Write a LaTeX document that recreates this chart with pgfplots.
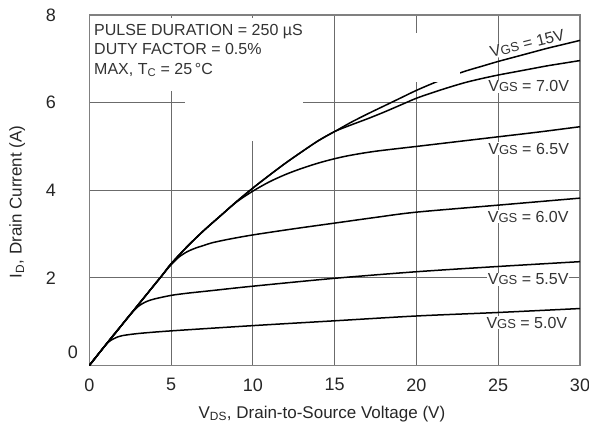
\documentclass[border=0pt]{standalone}
\usepackage{fontspec}
\setmainfont{Liberation Sans}
\usepackage{pgfplots}
\pgfplotsset{compat=1.18}
\newcommand{\vgs}[1]{V{\fontsize{13}{14}\selectfont GS} = #1}
\begin{document}
\begin{tikzpicture}
\begin{axis}[
    scale only axis, width=490.7pt, height=350.5pt,
    xmin=0, xmax=30, ymin=0, ymax=8,
    xtick={0,5,10,15,20,25,30}, ytick={0,2,4,6,8},
    yticklabels={,2,4,6,8},
    grid=major,
    major grid style={draw=black!58, line width=0.9pt},
    axis line style={draw=black!50, line width=1.1pt},
    major tick length=0pt,
    /pgf/number format/assume math mode=true,
    tick label style={font=\fontsize{18}{20}\selectfont, text=black!85},
    xticklabel style={yshift=-9.5pt},
    yticklabel style={xshift=-30pt},
    xlabel={V\textsubscript{DS}, Drain-to-Source Voltage (V)},
    ylabel={I\textsubscript{D}, Drain Current (A)},
    label style={font=\fontsize{17}{20}\selectfont, text=black!85},
    xlabel style={at={(axis description cs:0.474,-0.15)}, anchor=base},
    ylabel style={at={(axis description cs:-0.147,0.467)}, anchor=center},
    clip mode=individual,
    cycle list={black},
    every axis plot post/.append style={black, solid, line width=1.5pt, smooth, mark=none},
]
% white patches of the scan
\fill[white] (axis cs:0.06,6.27) rectangle (axis cs:14.0,7.94);
\fill[white] (axis cs:5.86,5.12) rectangle (axis cs:13.06,6.27);

\node[anchor=north west, inner sep=0pt, align=left,
      font=\fontsize{16}{19.5}\selectfont, text=black!80]
  at (axis cs:0.29,7.80)
  {PULSE DURATION = 250 µS\\DUTY FACTOR = 0.5\%\\MAX, T\textsubscript{C} = 25\,°C};

\node[fill=white, inner sep=1pt, font=\fontsize{16}{18}\selectfont, text=black!80, rotate=14]
  at (axis cs:26.77,7.35) {\vgs{15V}};
\node[fill=white, inner sep=1pt, font=\fontsize{16}{18}\selectfont, text=black!80]
  at (axis cs:26.86,6.37) {\vgs{7.0V}};
\node[fill=white, inner sep=1pt, font=\fontsize{16}{18}\selectfont, text=black!80]
  at (axis cs:26.86,4.95) {\vgs{6.5V}};
\node[fill=white, inner sep=1pt, font=\fontsize{16}{18}\selectfont, text=black!80]
  at (axis cs:26.83,3.40) {\vgs{6.0V}};
\node[fill=white, inner sep=1pt, font=\fontsize{16}{18}\selectfont, text=black!80]
  at (axis cs:26.83,1.97) {\vgs{5.5V}};
\node[fill=white, inner sep=1pt, font=\fontsize{16}{18}\selectfont, text=black!80]
  at (axis cs:26.75,0.98) {\vgs{5.0V}};

\node[font=\fontsize{18}{20}\selectfont, text=black!85] at (axis cs:-1.0,0.29) {0};

% VGS = 15V
\addplot coordinates {
  (0,0) (0.5,0.235) (1,0.47) (1.5,0.7) (2,0.93) (2.5,1.16) (3,1.39) (3.5,1.62)
  (4,1.85) (4.5,2.08) (5,2.32) (6,2.72) (7,3.08) (8,3.41) (9,3.74) (10,4.05)
  (11,4.34) (12,4.62) (13,4.88) (14,5.13) (15,5.34) (16,5.55) (17,5.74)
  (18,5.92) (19,6.1) (20,6.28) (21,6.44) (22,6.59) (23,6.72) (24,6.83)
  (25,6.94) (26,7.04) (27,7.14) (28,7.24) (29,7.33) (30,7.42)
};
% VGS = 7.0V
\addplot coordinates {
  (0,0) (0.5,0.235) (1,0.47) (1.5,0.7) (2,0.93) (2.5,1.16) (3,1.39) (3.5,1.62)
  (4,1.85) (4.5,2.08) (5,2.32) (6,2.72) (7,3.08) (8,3.41) (9,3.74) (10,4.05)
  (11,4.34) (12,4.62) (13,4.88) (14,5.13) (15,5.34) (16,5.49) (17,5.63)
  (18,5.78) (19,5.94) (20,6.1) (21,6.23) (22,6.35) (23,6.46) (24,6.55)
  (25,6.63) (26,6.7) (27,6.77) (28,6.84) (29,6.9) (30,6.96)
};
% VGS = 6.5V
\addplot coordinates {
  (0,0) (0.5,0.235) (1,0.47) (1.5,0.7) (2,0.93) (2.5,1.16) (3,1.39) (3.5,1.62)
  (4,1.85) (4.5,2.08) (5,2.32) (6,2.72) (7,3.08) (8,3.41) (9,3.73) (10,3.98)
  (11,4.19) (12,4.36) (13,4.5) (14,4.62) (15,4.72) (16,4.8) (17.5,4.89)
  (20,5.0) (22.5,5.11) (25,5.22) (27.5,5.33) (30,5.45)
};
% VGS = 6.0V
\addplot coordinates {
  (0,0) (0.5,0.235) (1,0.47) (1.5,0.7) (2,0.93) (2.5,1.16) (3,1.39) (3.5,1.62)
  (4,1.85) (4.5,2.08) (5,2.3) (5.5,2.48) (6,2.6) (6.5,2.68) (7,2.74) (7.5,2.8)
  (8.5,2.88) (10,2.98) (12.5,3.12) (15,3.25) (17.5,3.38) (20,3.5) (25,3.66)
  (30,3.82)
};
% VGS = 5.5V
\addplot coordinates {
  (0,0) (0.5,0.235) (1,0.47) (1.5,0.7) (2,0.93) (2.5,1.16) (3,1.35) (3.5,1.46)
  (4,1.52) (5,1.6) (6,1.65) (7.5,1.71) (10,1.81) (15,1.99) (20,2.14) (25,2.26)
  (30,2.37)
};
% VGS = 5.0V
\addplot coordinates {
  (0,0) (0.5,0.235) (1,0.47) (1.3,0.57) (1.6,0.63) (2,0.68) (3,0.73) (5,0.79)
  (10,0.91) (15,1.02) (20,1.13) (25,1.21) (30,1.3)
};

\fill[white] (axis cs:15.13,6.47) rectangle (axis cs:22.64,7.59);
\end{axis}
\pgfresetboundingbox
\path[use as bounding box]
  ([shift={(-89.3pt,-59.5pt)}]current axis.south west)
  rectangle ([shift={(9pt,15pt)}]current axis.north east);
\end{tikzpicture}
\end{document}
